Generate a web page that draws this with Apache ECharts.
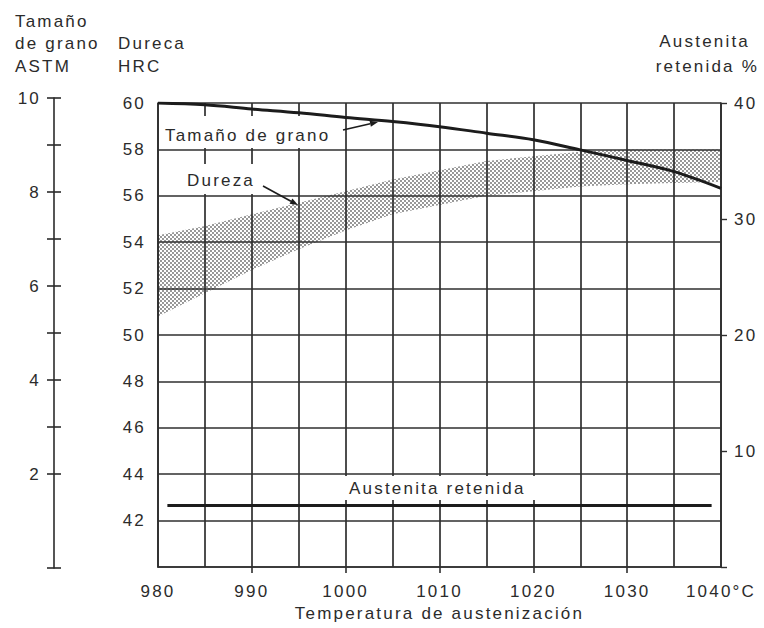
<!DOCTYPE html>
<html><head><meta charset="utf-8">
<script src="https://cdn.jsdelivr.net/npm/echarts@6/dist/echarts.min.js"></script>
<style>
html,body{margin:0;padding:0;background:#fff;}
#chart{width:764px;height:628px;}
#chart text{letter-spacing:2.2px;}
</style></head><body><div id="chart"></div>
<script>
// ---- data ----
const temperatures = [980, 985, 990, 995, 1000, 1005, 1010, 1015, 1020, 1025, 1030, 1035, 1040];
const grainSizeASTM = [10.0, 9.96, 9.87, 9.79, 9.69, 9.60, 9.49, 9.35, 9.21, 8.99, 8.76, 8.52, 8.16];
const hardnessMin = [50.8, 51.8, 52.8, 53.7, 54.5, 55.2, 55.6, 56.0, 56.2, 56.4, 56.5, 56.55, 56.6];
const hardnessMax = [54.3, 54.7, 55.2, 55.7, 56.2, 56.7, 57.1, 57.5, 57.7, 57.9, 58.0, 58.0, 58.0];
const austeniteTemps = [981, 1039];
const retainedAustenite = [5.3, 5.3];
const tempLabels = [980, 990, 1000, 1010, 1020, 1030, 1040];
const tempTicks = [990, 1000, 1010, 1020, 1030];
const astmLabels = [2, 4, 6, 8, 10];
const astmTicks = [0, 2, 3, 4, 5, 6, 7, 8, 9, 10];

const FONT = '"Liberation Sans", Arial, sans-serif';
const INK = '#2b2b2b';
const GRID = '#2f2f2f';

// stipple pattern
const dot = document.createElement('canvas');
dot.width = 4; dot.height = 4;
(function () {
  const c = dot.getContext('2d');
  c.fillStyle = 'rgba(45,45,45,0.72)';
  c.beginPath(); c.arc(1, 1, 0.9, 0, Math.PI * 2); c.fill();
  c.beginPath(); c.arc(3, 3, 0.9, 0, Math.PI * 2); c.fill();
})();

const chart = echarts.init(document.getElementById('chart'), null, { renderer: 'svg' });

function txt(s, x, y, align) {
  return { type: 'text', z: 120, style: { text: s, x: x, y: y, fill: INK, font: '17px ' + FONT,
    textAlign: align || 'left', align: align || 'left', textVerticalAlign: 'middle', verticalAlign: 'middle' } };
}
function box(x, y, w, h) {
  return { type: 'rect', z: 110, shape: { x: x, y: y, width: w, height: h }, style: { fill: '#fff' } };
}
function arrow(x1, y1, x2, y2) {
  const a = Math.atan2(y2 - y1, x2 - x1), L = 8, W = 3;
  const bx = x2 - L * Math.cos(a), by = y2 - L * Math.sin(a);
  return [
    { type: 'line', z: 120, shape: { x1: x1, y1: y1, x2: bx, y2: by }, style: { stroke: '#1c1c1c', lineWidth: 1.6 } },
    { type: 'polygon', z: 120, shape: { points: [[x2, y2], [bx + W * Math.sin(a), by - W * Math.cos(a)], [bx - W * Math.sin(a), by + W * Math.cos(a)]] }, style: { fill: '#1c1c1c' } }
  ];
}

const option = {
  animation: false,
  backgroundColor: '#fff',
  textStyle: { fontFamily: FONT, color: INK },
  grid: [
    { left: 158, right: 43, top: 103, bottom: 61, containLabel: false, outerBoundsMode: 'none' },
    { left: 54, width: 1, top: 98, bottom: 60, containLabel: false, outerBoundsMode: 'none' }
  ],
  xAxis: [
    {
      type: 'value', gridIndex: 0, min: 980, max: 1040, interval: 5,
      name: 'Temperatura de austenización', nameLocation: 'middle', nameGap: 36,
      nameTextStyle: { fontSize: 17, color: INK, fontFamily: FONT },
      axisLine: { show: true, lineStyle: { color: GRID, width: 1.7 } },
      axisTick: { show: false },
      axisLabel: {
        show: true, margin: 16, fontSize: 17, color: INK, fontFamily: FONT,
        showMinLabel: true, showMaxLabel: true, hideOverlap: false, interval: 0,
        formatter: v => tempLabels.indexOf(v) < 0 ? '' : (v === 1040 ? '1040°C' : String(v))
      },
      splitLine: { show: true, lineStyle: { color: GRID, width: 1.7 } }
    },
    { type: 'value', gridIndex: 1, min: 0, max: 1, show: false },
    {
      type: 'value', gridIndex: 0, position: 'bottom', min: 980, max: 1040, interval: 5,
      axisLine: { show: false },
      axisTick: { show: true, length: 6, customValues: tempTicks, lineStyle: { color: GRID, width: 1.6 } },
      axisLabel: { show: false },
      splitLine: { show: false }
    }
  ],
  yAxis: [
    {
      type: 'value', gridIndex: 0, position: 'left', min: 40, max: 60, interval: 2,
      axisLine: { show: true, lineStyle: { color: GRID, width: 1.7 } },
      axisTick: { show: false },
      axisLabel: { margin: 12, fontSize: 17, color: INK, fontFamily: FONT, showMinLabel: true, showMaxLabel: true,
        formatter: v => v === 40 ? '' : String(v) },
      splitLine: { show: true, lineStyle: { color: GRID, width: 1.7 } }
    },
    {
      type: 'value', gridIndex: 0, position: 'right', min: 0, max: 40, interval: 10,
      axisLine: { show: true, lineStyle: { color: GRID, width: 1.7 } },
      axisTick: { show: true, length: 6, lineStyle: { color: GRID, width: 1.4 } },
      axisLabel: { margin: 13, fontSize: 17, color: INK, fontFamily: FONT, showMaxLabel: true,
        formatter: v => v === 0 ? '' : String(v) },
      splitLine: { show: false }
    },
    { type: 'value', gridIndex: 0, position: 'left', min: 0, max: 10, show: false, splitLine: { show: false } },
    {
      type: 'value', gridIndex: 1, position: 'left', min: 0, max: 10, interval: 1,
      axisLine: { show: true, lineStyle: { color: INK, width: 1.6 } },
      axisTick: { show: true, length: 7, customValues: astmTicks, lineStyle: { color: INK, width: 1.6 } },
      axisLabel: { margin: 13, fontSize: 17, color: INK, fontFamily: FONT, customValues: astmLabels,
        showMaxLabel: true, formatter: v => astmLabels.indexOf(v) < 0 ? '' : String(v) },
      splitLine: { show: false }
    },
    {
      type: 'value', gridIndex: 1, position: 'left', min: 0, max: 10, interval: 1,
      axisLine: { show: false },
      axisTick: { show: true, inside: true, length: 7, customValues: astmTicks, lineStyle: { color: INK, width: 1.6 } },
      axisLabel: { show: false },
      splitLine: { show: false }
    }
  ],
  series: [
    {
      name: 'Dureza', type: 'custom', xAxisIndex: 0, yAxisIndex: 0, z: 1, silent: true, clip: true,
      data: temperatures.map((t, i) => [t, hardnessMin[i], hardnessMax[i]]),
      encode: { x: 0, y: [1, 2] },
      renderItem: function (params, api) {
        if (params.dataIndex !== 0) return;
        const top = temperatures.map((t, i) => api.coord([t, hardnessMax[i]]));
        const bot = temperatures.map((t, i) => api.coord([t, hardnessMin[i]])).reverse();
        return { type: 'polygon', shape: { points: top.concat(bot) },
          style: { fill: { image: dot, repeat: 'repeat' }, stroke: null } };
      }
    },
    {
      name: 'Tamaño de grano', type: 'line', xAxisIndex: 0, yAxisIndex: 2, smooth: 0.35,
      symbol: 'none', z: 200, lineStyle: { color: '#1c1c1c', width: 3 },
      data: temperatures.map((t, i) => [t, grainSizeASTM[i]])
    },
    {
      name: 'Austenita retenida', type: 'line', xAxisIndex: 0, yAxisIndex: 1,
      symbol: 'none', z: 200, lineStyle: { color: '#1c1c1c', width: 3 },
      data: austeniteTemps.map((t, i) => [t, retainedAustenite[i]])
    }
  ],
  graphic: [
    txt('Tamaño', 15, 21), txt('de grano', 15, 43), txt('ASTM', 15, 66),
    txt('Dureca', 118, 43), txt('HRC', 118, 66),
    txt('Austenita', 750, 41.5, 'right'), txt('retenida %', 759, 66.5, 'right'),
    box(159, 116, 182, 32), txt('Tamaño de grano', 165, 135),
    box(176, 164, 112, 30), txt('Dureza', 187, 180),
    box(338, 476, 222, 24), txt('Austenita retenida', 349, 488)
  ].concat(arrow(343, 130, 378, 122)).concat(arrow(263, 186, 298, 205))
};
chart.setOption(option);
</script></body></html>
